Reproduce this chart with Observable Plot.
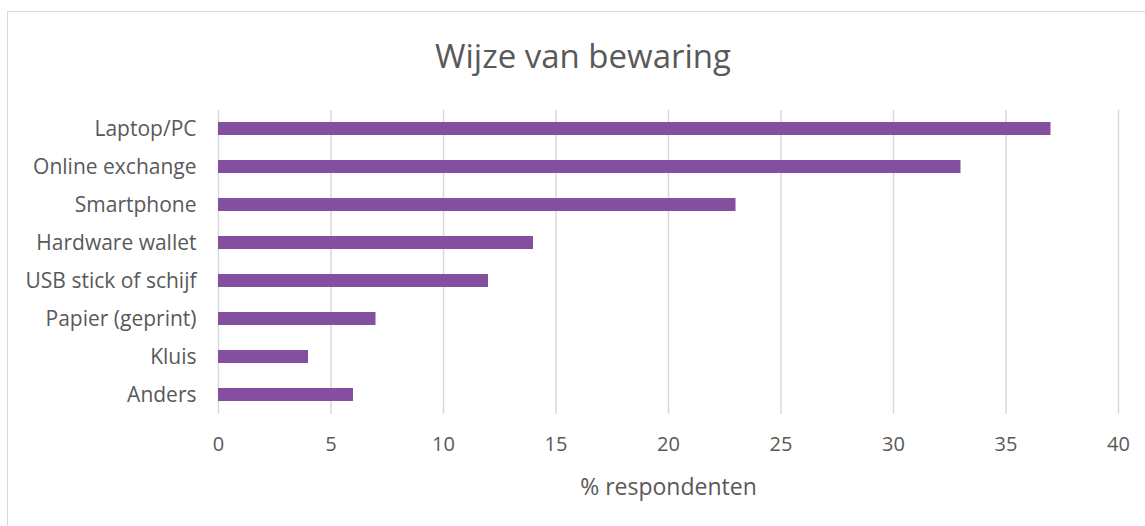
<!DOCTYPE html>
<html><head><meta charset="utf-8">
<script src="https://cdn.jsdelivr.net/npm/d3@7"></script>
<script src="https://cdn.jsdelivr.net/npm/@observablehq/plot@0.6"></script>
<style>
body{margin:0;background:#fff;font-family:"Open Sans",sans-serif;}
#wrap{position:relative;width:1145px;height:526px;overflow:hidden;}
#frame{position:absolute;left:7px;top:11px;width:1150px;height:530px;border:1px solid #d9d9d9;box-sizing:border-box;}
#title{position:absolute;left:0;width:1166px;top:33px;text-align:center;font-size:33px;color:#595959;}
#chart{position:absolute;left:0;top:0;}
</style></head>
<body><div id="wrap"><div id="frame"></div><div id="title">Wijze van bewaring</div><div id="chart"></div></div>
<script>
const categories = ["Laptop/PC","Online exchange","Smartphone","Hardware wallet","USB stick of schijf","Papier (geprint)","Kluis","Anders"];
const values = [37,33,23,14,12,7,4,6];
const xTicks = [0,5,10,15,20,25,30,35,40];
const data = categories.map((c,i)=>({cat:c, v:values[i]}));
const plot = Plot.plot({
  width:1145, height:526,
  marginLeft:218, marginRight:27, marginTop:110, marginBottom:112,
  style:{fontFamily:"Open Sans, sans-serif", fontSize:"20px", color:"#595959", background:"transparent"},
  x:{domain:[0,40], ticks:xTicks, label:"% respondenten", labelAnchor:"center", labelArrow:"none"},
  y:{domain:categories, paddingInner:0.645, paddingOuter:0.3225, label:null},
  marks:[
    Plot.gridX(xTicks,{stroke:"#d9d9d9", strokeOpacity:1, strokeWidth:1.5}),
    Plot.barX(data,{x:"v", y:"cat", fill:"#834f9e"}),
    Plot.axisX({ticks:xTicks, tickSize:0, tickPadding:22, fontSize:20, label:null, fill:"#595959"}),
    Plot.text(["% respondenten"], {frameAnchor:"bottom", dy:80, fontSize:23, fill:"#595959"}),
    Plot.axisY({tickSize:0, tickPadding:22, fontSize:21, label:null, fill:"#595959"})
  ]
});
document.getElementById("chart").appendChild(plot);
</script></body></html>
